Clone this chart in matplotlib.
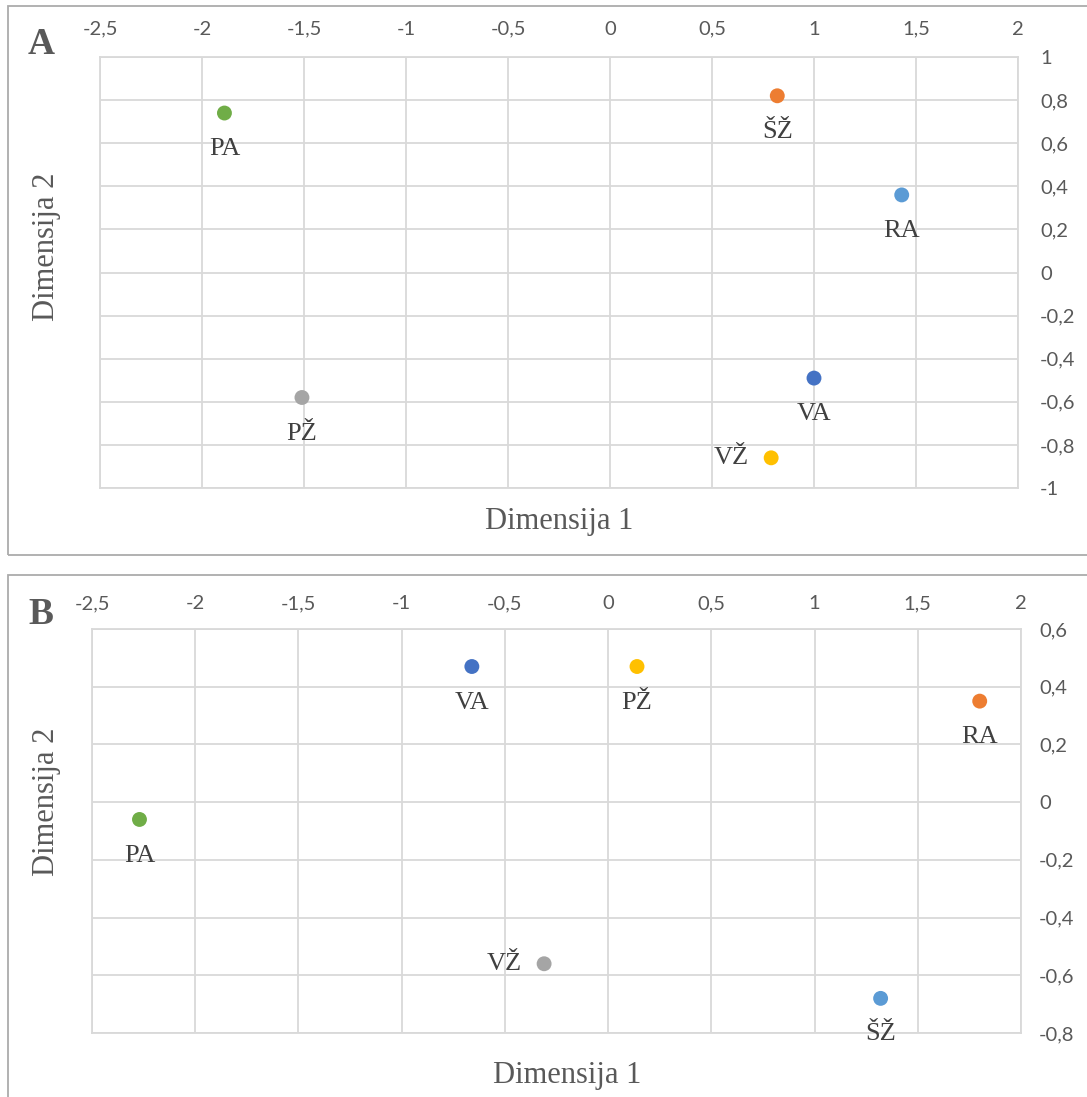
import matplotlib
matplotlib.use("Agg")
import matplotlib.pyplot as plt
from matplotlib.patches import Rectangle

# ---- data ----
labels_A = ["PA", "ŠŽ", "RA", "VA", "VŽ", "PŽ"]
x_A = [-1.89, 0.82, 1.43, 1.00, 0.79, -1.51]
y_A = [0.74, 0.82, 0.36, -0.49, -0.86, -0.58]
colors_A = ["#70AD47", "#ED7D31", "#5B9BD5", "#4472C4", "#FFC000", "#A5A5A5"]
pos_A = ["below", "below", "below", "below", "left", "below"]

labels_B = ["VA", "PŽ", "RA", "PA", "VŽ", "ŠŽ"]
x_B = [-0.66, 0.14, 1.80, -2.27, -0.31, 1.32]
y_B = [0.47, 0.47, 0.35, -0.06, -0.56, -0.68]
colors_B = ["#4472C4", "#FFC000", "#ED7D31", "#70AD47", "#A5A5A5", "#5B9BD5"]
pos_B = ["below", "below", "below", "below", "left", "below"]

xticks = [-2.5, -2, -1.5, -1, -0.5, 0, 0.5, 1, 1.5, 2]
xticklabels = ["-2,5", "-2", "-1,5", "-1", "-0,5", "0", "0,5", "1", "1,5", "2"]
yticks_A = [-1, -0.8, -0.6, -0.4, -0.2, 0, 0.2, 0.4, 0.6, 0.8, 1]
yticklabels_A = ["-1", "-0,8", "-0,6", "-0,4", "-0,2", "0", "0,2", "0,4", "0,6", "0,8", "1"]
yticks_B = [-0.8, -0.6, -0.4, -0.2, 0, 0.2, 0.4, 0.6]
yticklabels_B = ["-0,8", "-0,6", "-0,4", "-0,2", "0", "0,2", "0,4", "0,6"]

W, H = 1087, 1097
fig = plt.figure(figsize=(W / 100, H / 100), dpi=100)

SERIF = "Liberation Serif"
TICKFONT = "Lato"
GRID = "#D9D9D9"
TXT = "#595959"
LBL = "#404040"


def fx(px):
    return px / W


def fy(py):
    return 1 - py / H


# panel borders
fig.patches.append(Rectangle((fx(8), fy(555)), fx(1200 - 8), fy(6) - fy(555),
                             transform=fig.transFigure, fill=False,
                             edgecolor="#ABABAB", linewidth=1.3))
fig.patches.append(Rectangle((fx(8), fy(1200)), fx(1200 - 8), fy(575) - fy(1200),
                             transform=fig.transFigure, fill=False,
                             edgecolor="#ABABAB", linewidth=1.3))


def make_panel(rect, xs, ys, labs, cols, poss, yticks, yticklabels, letter,
               letter_pos, xtitle_pos, ytitle_pos, pad_top, pad_right):
    l, t, r, b = rect
    ax = fig.add_axes([fx(l), fy(b), fx(r - l), fy(t) - fy(b)])
    ax.set_xlim(xticks[0], xticks[-1])
    ax.set_ylim(yticks[0], yticks[-1])
    ax.set_xticks(xticks)
    ax.set_xticklabels(xticklabels)
    ax.set_yticks(yticks)
    ax.set_yticklabels(yticklabels)
    ax.xaxis.tick_top()
    ax.yaxis.tick_right()
    ax.tick_params(axis="x", length=0, pad=pad_top, labelsize=14.5, labelcolor=TXT)
    ax.tick_params(axis="y", length=0, pad=pad_right, labelsize=14.5, labelcolor=TXT)
    for lab in ax.get_xticklabels() + ax.get_yticklabels():
        lab.set_fontfamily(TICKFONT)
    ax.grid(True, color=GRID, linewidth=1.3)
    for s in ax.spines.values():
        s.set_color(GRID)
        s.set_linewidth(1.3)
    ax.set_axisbelow(True)
    ax.scatter(xs, ys, s=115, c=cols, zorder=3, linewidths=0)
    for x, y, lab, p in zip(xs, ys, labs, poss):
        if p == "below":
            ax.annotate(lab, (x, y), xytext=(0, -26), textcoords="offset points",
                        ha="center", va="center", fontsize=19, family=SERIF,
                        color=LBL, zorder=4)
        else:
            ax.annotate(lab, (x, y), xytext=(-16, 0), textcoords="offset points",
                        ha="right", va="center", fontsize=19, family=SERIF,
                        color=LBL, zorder=4)
    fig.text(fx(letter_pos[0]), fy(letter_pos[1]), letter, fontsize=27,
             fontweight="bold", family=SERIF, color=TXT, ha="center", va="center")
    fig.text(fx(xtitle_pos[0]), fy(xtitle_pos[1]), "Dimensija 1", fontsize=22,
             family=SERIF, color=TXT, ha="center", va="center")
    fig.text(fx(ytitle_pos[0]), fy(ytitle_pos[1]), "Dimensija 2", fontsize=22,
             family=SERIF, color=TXT, ha="center", va="center", rotation=90)
    return ax


make_panel((100, 57, 1018, 488), x_A, y_A, labels_A, colors_A, pos_A,
           yticks_A, yticklabels_A, "A", (41, 44), (559, 522), (47, 247), 14, 16)
make_panel((92, 629, 1021, 1033), x_B, y_B, labels_B, colors_B, pos_B,
           yticks_B, yticklabels_B, "B", (41, 615), (567, 1075), (47, 802), 12, 13)

fig.savefig("out.png", dpi=100)
